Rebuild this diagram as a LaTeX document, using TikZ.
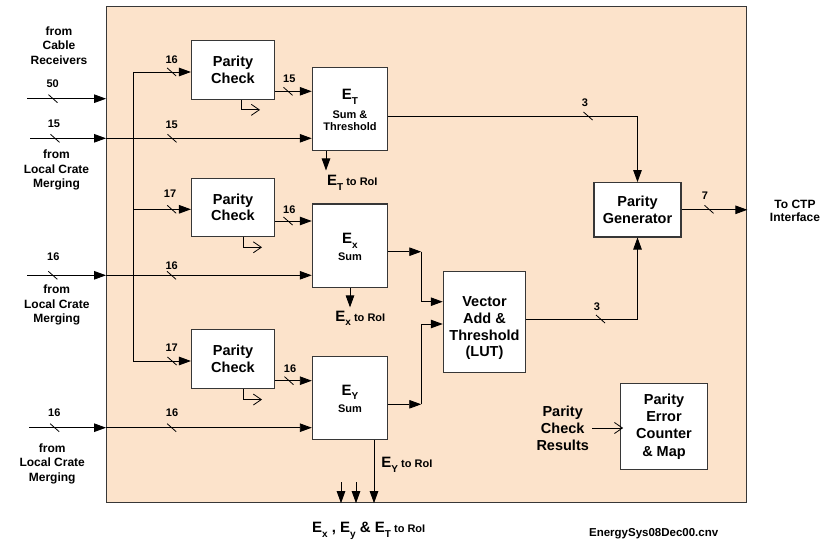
\documentclass[tikz,border=0pt]{standalone}
\usepackage{fontspec}
\setmainfont{Liberation Sans}
\usetikzlibrary{arrows.meta,calc}
\definecolor{panel}{RGB}{252,227,203}
\definecolor{edge}{RGB}{55,55,55}
% lowered, smaller subscript letter after a capital E
\newcommand\mysub[1]{\raisebox{-0.33em}{\fontsize{10}{10}\selectfont #1}}
% bus-width mark: short slash across a line plus its bit count
% #1 name, #2/#3 mark position, #4/#5 label position, #6 label
\newcommand\busmark[6]{%
  \draw[tickline] (#2-4.5,#3-4) -- (#2+4.5,#3+4);
  \node[buslbl] (#1) at (#4,#5) {#6};}
\begin{document}
\begin{tikzpicture}[x=1pt,y=-1pt,line width=0.9pt,
  arr/.style={-{Triangle[length=12pt,width=8.5pt]}},
  openarr/.style={-{Straight Barb[length=8pt,width=11pt]}},
  tickline/.style={line width=0.8pt},
  blk/.style={draw=edge,fill=white,line width=1.1pt,inner sep=0pt,align=center},
  bigf/.style={font=\fontsize{14.5}{16.4}\selectfont\bfseries},
  lbl/.style={align=center,inner sep=0pt,font=\fontsize{12}{14.5}\selectfont\bfseries},
  buslbl/.style={inner sep=0pt,font=\fontsize{11}{11}\selectfont\bfseries},
  efont/.style={inner sep=0pt,font=\fontsize{15}{15}\selectfont\bfseries},
  smallf/.style={inner sep=0pt,font=\fontsize{11}{12}\selectfont\bfseries}]
\useasboundingbox (0,0) rectangle (827,540);

% enclosing panel
\node[draw=edge,fill=panel,line width=1.3pt,inner sep=0pt,
      minimum width=640pt,minimum height=495.7pt] (main) at (426.7,254.7) {};

% blocks
\node[blk,bigf,minimum width=83pt,minimum height=58.6pt] (pc1) at (233,70) {Parity\\Check};
\node[blk,bigf,minimum width=83pt,minimum height=57.7pt] (pc2) at (233,207.2) {Parity\\Check};
\node[blk,bigf,minimum width=83pt,minimum height=58.6pt] (pc3) at (233,359) {Parity\\Check};
\node[blk,minimum width=75.4pt,minimum height=83.3pt] (et) at (350,109.3) {};
\node[blk,minimum width=75.4pt,minimum height=83.3pt] (ex) at (350,245.7) {};
\node[blk,minimum width=74.7pt,minimum height=83.3pt] (ey) at (349.7,397.7) {};
\node[blk,minimum width=82.4pt,minimum height=101.3pt] (va) at (484.5,321.7) {};
\node[blk,bigf,minimum width=87pt,minimum height=54.3pt] (pg) at (637.5,209.8) {Parity\\Generator};
\node[blk,minimum width=86.6pt,minimum height=85.6pt,
      font=\fontsize{14.5}{17.4}\selectfont\bfseries] (pe) at (664,426.5) {Parity\\Error\\Counter\\\& Map};

% block texts
\node[anchor=base,efont] (etl) at (350,99.3) {E\mysub{T}};
\node[anchor=base,smallf] (ets) at (350,118.3) {Sum \&};
\node[anchor=base,smallf] (ett) at (350,130.7) {Threshold};
\node[anchor=base,efont] (exl) at (350,243.3) {E\mysub{x}};
\node[anchor=base,smallf] (exs) at (350,260.7) {Sum};
\node[anchor=base,efont] (eyl) at (350,395) {E\mysub{Y}};
\node[anchor=base,smallf] (eys) at (350,412.3) {Sum};
\node[align=center,inner sep=0pt,font=\fontsize{14.5}{16.7}\selectfont\bfseries]
  (vat) at (484.5,328.3) {Vector\\Add \&\\Threshold\\(LUT)};

% outside labels
\node[lbl] (fcr) at (59,45.6) {from\\Cable\\Receivers};
\node[lbl] (flc1) at (56.5,170) {from\\Local Crate\\Merging};
\node[lbl] (flc2) at (56.8,305) {from\\Local Crate\\Merging};
\node[lbl] (flc3) at (52.2,463.5) {from\\Local Crate\\Merging};
\node[lbl,font=\fontsize{12}{13.7}\selectfont\bfseries] (ctp) at (795,211) {To CTP\\Interface};
\node[align=center,inner sep=0pt,font=\fontsize{14.5}{17}\selectfont\bfseries]
  (pcr) at (562.7,428) {Parity\\Check\\Results};

% inputs from outside
\coordinate (s50) at (27,98.7);
\coordinate (s15) at (30,138.3);
\coordinate (s16a) at (27,275.3);
\coordinate (s16b) at (29,427.7);
\draw[arr] (s50) -- (s50 -| main.west);
\draw[arr] (s15) -- (s15 -| main.west);
\draw[arr] (s15 -| main.west) -- (s15 -| et.west);
\draw[arr] (s16a) -- (s16a -| main.west);
\draw[arr] (s16a -| main.west) -- (s16a -| ex.west);
\draw[arr] (s16b) -- (s16b -| main.west);
\draw[arr] (s16b -| main.west) -- (s16b -| ey.west);

% distribution bus to the parity checkers
\coordinate (p1in) at ([yshift=-2pt]pc1.west);
\coordinate (p2in) at ([yshift=-2.1pt]pc2.west);
\coordinate (p3in) at ([yshift=-2pt]pc3.west);
\coordinate (bt) at (133.3,72);
\draw (bt) -- (p3in -| bt);
\draw[arr] (p1in -| bt) -- (p1in);
\draw[arr] (p2in -| bt) -- (p2in);
\draw[arr] (p3in -| bt) -- (p3in);

% parity checker outputs
\coordinate (p1out) at ([yshift=-21.3pt]pc1.east);
\coordinate (p2out) at ([yshift=-13.8pt]pc2.east);
\coordinate (p3out) at ([yshift=-21.7pt]pc3.east);
\draw[arr] (p1out) -- (p1out -| et.west);
\draw[arr] (p2out) -- (p2out -| ex.west);
\draw[arr] (p3out) -- (p3out -| ey.west);
\draw[openarr,line width=0.8pt] ([xshift=8pt]pc1.south) |- ++(19,10);
\draw[openarr,line width=0.8pt] ([xshift=10pt]pc2.south) |- ++(19,10.7);
\draw[openarr,line width=0.8pt] ([xshift=10pt]pc3.south) |- ++(19,10.7);

% sums to vector add and parity generator
\coordinate (etout) at ([yshift=-6.7pt]et.east);
\draw[arr] (etout) -| (pg.north);
\coordinate (exout) at ([yshift=-6pt]ex.east);
\coordinate (jx) at ([xshift=33pt]exout);
\coordinate (eyout) at ([yshift=-6.6pt]ey.east);
\coordinate (jy) at (eyout -| jx);
\coordinate (va1) at ([yshift=20pt]va.west);
\coordinate (va2) at ([yshift=-2.3pt]va.west);
\draw[arr] (exout) -- (jx);
\draw[arr] (jx) |- (va1);
\draw[arr] (eyout) -- (jy);
\draw[arr] (jy) |- (va2);
\coordinate (vaout) at ([yshift=2.7pt]va.east);
\draw[arr] (vaout) -| (pg.south);
\draw[arr] (pg.east) -- (pg.east -| main.east);

% readout to RoI
\draw[arr] ([xshift=-24pt]et.south) -- ++(0,19);
\draw[arr] (ex.south) -- ++(0,19.5);
\coordinate (eyd) at ([xshift=24.3pt]ey.south);
\draw[arr] (eyd) -- (eyd |- main.south);
\coordinate (r1) at (341,482);
\coordinate (r2) at (356,482);
\draw[arr] (r1) -- (r1 |- main.south);
\draw[arr] (r2) -- (r2 |- main.south);
\node[anchor=base west,efont] (etr) at (326.7,186) {E\mysub{T}{\fontsize{11}{11}\selectfont\ to RoI}};
\node[anchor=base west,efont] (exr) at (335,321) {E\mysub{x}{\fontsize{11}{11}\selectfont\ to RoI}};
\node[anchor=base west,efont] (eyr) at (381,467.7) {E\mysub{Y}{\fontsize{11}{11}\selectfont\ to RoI}};
\node[anchor=base west,efont] (roi) at (311.7,532.3)
  {E\mysub{x} , E\mysub{y} \& E\mysub{T}{\fontsize{11}{11}\selectfont\ to RoI}};
\node[anchor=base,inner sep=0pt,font=\fontsize{11.5}{11.5}\selectfont\bfseries]
  (fn) at (653.7,536) {EnergySys08Dec00.cnv};

% parity results into the error counter
\draw[openarr,line width=0.8pt] ([xshift=3pt]pcr.east) -- ([xshift=3pt]pcr.east -| pe.west);

% bus widths
\busmark{n50}{53}{98.7}{52.7}{84}{50}
\busmark{n15a}{55}{138.3}{54}{124}{15}
\busmark{n15b}{172}{138.3}{171.7}{125}{15}
\busmark{n16p1}{171.7}{72}{171.7}{59.3}{16}
\busmark{n15p1}{288}{91.3}{289.3}{78.3}{15}
\busmark{n3t}{588}{116}{585}{102.7}{3}
\busmark{n7}{709}{209.3}{705}{195.7}{7}
\busmark{n17p2}{171.7}{209.3}{170}{194}{17}
\busmark{n16p2}{288}{221}{289.3}{210}{16}
\busmark{n16a}{52.8}{275.3}{53.3}{257}{16}
\busmark{n16b}{171.5}{275.3}{171.7}{266}{16}
\busmark{n3v}{600.5}{319}{597}{307}{3}
\busmark{n17p3}{172}{361}{171.7}{347.3}{17}
\busmark{n16p3}{289}{380.7}{290}{369}{16}
\busmark{n16c}{54.7}{427.7}{54.3}{412.7}{16}
\busmark{n16d}{171.7}{427.7}{172}{412.7}{16}
\end{tikzpicture}
\end{document}
